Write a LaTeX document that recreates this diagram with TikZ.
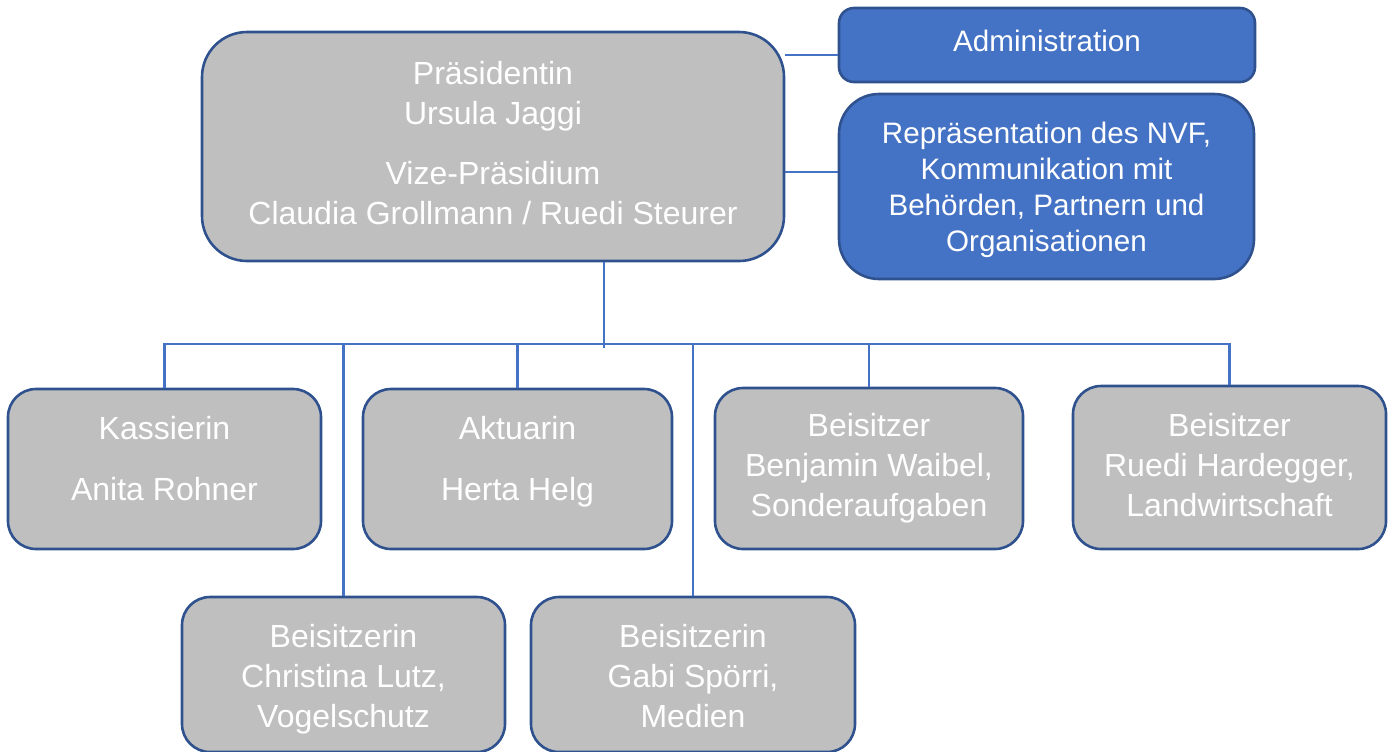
\documentclass[tikz,border=0pt]{standalone}
\usepackage{fontspec}
\setmainfont{Liberation Sans}
\definecolor{boxgray}{HTML}{BFBFBF}
\definecolor{boxblue}{HTML}{4472C4}
\definecolor{rimblue}{HTML}{2F528F}
\definecolor{linkblue}{HTML}{4472C4}

\begin{document}
\begin{tikzpicture}[x=0.5pt,y=0.5pt,yscale=-1,xscale=1,
  graybox/.style={draw=rimblue,line width=1.3pt,fill=boxgray,rounded corners=14pt,inner sep=0pt},
  bluebox/.style={draw=rimblue,line width=1.3pt,fill=boxblue,inner sep=0pt},
  graytxt/.style={text=white,align=center,font=\fontsize{16}{20}\selectfont},
  bluetxt/.style={text=white,align=center,font=\fontsize{14.8}{18}\selectfont},
  link/.style={draw=linkblue,line width=1.2pt}]
\useasboundingbox (0,0) rectangle (1395,751);

%Shape: Rounded Rect [id:pres] 
\node (pres) [graybox,rounded corners=22.5pt,minimum width=291pt,minimum height=114.5pt,
  label={[graytxt,name=prestxt,yshift=1.5pt]center:{Präsidentin\\Ursula Jaggi\\[10pt]Vize-Präsidium\\Claudia Grollmann / Ruedi Steurer}}] at (493,146.5) {};
%Shape: Rounded Rect [id:admin] 
\node (admin) [bluebox,rounded corners=7.5pt,minimum width=208pt,minimum height=37pt,
  label={[bluetxt,name=admintxt,yshift=2pt]center:{Administration}}] at (1047,45) {};
%Shape: Rounded Rect [id:repr] 
\node (repr) [bluebox,rounded corners=20pt,minimum width=207.5pt,minimum height=92.5pt,
  label={[bluetxt,name=reprtxt,yshift=-1.5pt]center:{Repräsentation des NVF,\\Kommunikation mit\\Behörden, Partnern und\\Organisationen}}] at (1046.5,186.5) {};

%Shape: Rounded Rect [id:kas] 
\node (kas) [graybox,minimum width=156.5pt,minimum height=80pt,
  label={[graytxt,name=kastxt,yshift=5pt]center:{Kassierin\\[10.5pt]Anita Rohner}}] at (164.5,469) {};
%Shape: Rounded Rect [id:akt] 
\node (akt) [graybox,minimum width=154.5pt,minimum height=80pt,
  label={[graytxt,name=akttxt,yshift=3.5pt]center:{Aktuarin\\[10.5pt]Herta Helg}}] at (517.5,469) {};
%Shape: Rounded Rect [id:ben] 
\node (ben) [graybox,minimum width=154pt,minimum height=80.5pt,
  label={[graytxt,name=bentxt]center:{Beisitzer\\Benjamin Waibel,\\Sonderaufgaben}}] at (869,468.5) {};
%Shape: Rounded Rect [id:rue] 
\node (rue) [graybox,minimum width=156.5pt,minimum height=81.5pt,
  label={[graytxt,name=ruetxt,yshift=1pt]center:{Beisitzer\\Ruedi Hardegger,\\Landwirtschaft}}] at (1229.5,467.5) {};
%Shape: Rounded Rect [id:chr] 
\node (chr) [graybox,minimum width=161.5pt,minimum height=77.5pt,
  label={[graytxt,name=chrtxt,yshift=-2.5pt]center:{Beisitzerin\\Christina Lutz,\\Vogelschutz}}] at (343.5,674.5) {};
%Shape: Rounded Rect [id:gab] 
\node (gab) [graybox,minimum width=162pt,minimum height=77.5pt,
  label={[graytxt,name=gabtxt,yshift=-1pt]center:{Beisitzerin\\Gabi Spörri,\\Medien}}] at (693,674.5) {};

%Straight Lines [id:side] 
\draw [link] (pres.east |- 0,55) -- (admin.west |- 0,55) ;
\draw [link] (pres.east |- 0,172) -- (repr.west |- 0,172) ;
%Straight Lines [id:trunk] 
\coordinate (bar) at (604,344);
\draw [link] (pres.south -| bar) -- ([yshift=2pt]bar) ;
\draw [link] (kas.north) -- (kas.north |- bar) -- (rue.north |- bar) -- (rue.north) ;
\draw [link] (chr.north |- bar) -- (chr.north) ;
\draw [link] (akt.north |- bar) -- (akt.north) ;
\draw [link] (gab.north |- bar) -- (gab.north) ;
\draw [link] (ben.north |- bar) -- (ben.north) ;

\end{tikzpicture}
\end{document}
